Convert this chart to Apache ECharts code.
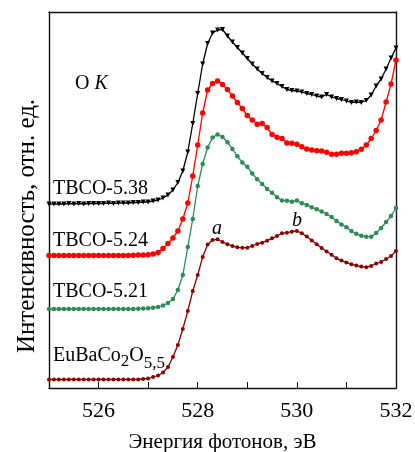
<!DOCTYPE html>
<html>
<head>
<meta charset="utf-8">
<script src="https://cdn.jsdelivr.net/npm/echarts@6/dist/echarts.min.js"></script>
<style>
  html, body { margin: 0; padding: 0; background: #fff; }
  #chart { width: 415px; height: 452px; }
</style>
</head>
<body>
<div id="chart"></div>
<script>
// Photon energy, eV (one sample every 0.1 eV)
const energy = [
  525.0, 525.1, 525.2, 525.3, 525.4, 525.5, 525.6, 525.7, 525.8, 525.9,
  526.0, 526.1, 526.2, 526.3, 526.4, 526.5, 526.6, 526.7, 526.8, 526.9,
  527.0, 527.1, 527.2, 527.3, 527.4, 527.5, 527.6, 527.7, 527.8, 527.9,
  528.0, 528.1, 528.2, 528.3, 528.4, 528.5, 528.6, 528.7, 528.8, 528.9,
  529.0, 529.1, 529.2, 529.3, 529.4, 529.5, 529.6, 529.7, 529.8, 529.9,
  530.0, 530.1, 530.2, 530.3, 530.4, 530.5, 530.6, 530.7, 530.8, 530.9,
  531.0, 531.1, 531.2, 531.3, 531.4, 531.5, 531.6, 531.7, 531.8, 531.9,
  532.0
];

// O K-edge intensity, arbitrary units (spectra are offset vertically)
const tbco538 = [
  184, 184, 184, 184, 184.5, 184, 184.5, 184, 184.5, 184.5,
  184.5, 184.5, 185, 184.5, 185, 185, 185, 185.5, 185.5, 186,
  186, 187, 188, 190, 193, 198, 205.5, 217, 236, 264.5,
  294.5, 324, 344.5, 355, 358, 358.5, 352, 346, 340.5, 335,
  329.5, 324, 319, 314.5, 310.5, 307, 304.5, 301.5, 298.5, 297.5,
  297, 296, 294.5, 293.5, 292, 291, 293.5, 291, 289.5, 288.5,
  287, 285.5, 286, 285.5, 287.5, 293, 302, 309, 319, 330,
  340
];

const tbco524 = [
  132.5, 132.5, 132.5, 132.5, 132.5, 132.5, 132.5, 132.5, 132.5, 132.5,
  132.5, 132.5, 132.5, 132.5, 132.5, 132.5, 132.5, 132.8, 133, 133,
  133.3, 134, 135.5, 139.5, 144.5, 150, 157, 169, 185, 212,
  243, 275, 298, 304.5, 307, 303.5, 298.5, 292, 285.5, 279.5,
  272.5, 268, 263.7, 264.5, 260.5, 253.5, 250.7, 249.5, 245, 244.7,
  243.8, 241.3, 239, 238, 237.3, 237, 235.7, 233.7, 233.7, 234.7,
  234.7, 235.3, 236.3, 238.7, 243, 249.5, 257.5, 268, 286, 304,
  328
];

const tbco521 = [
  79, 79, 79, 79, 79, 79, 79, 79, 79, 79,
  79, 79, 79, 79, 79, 79, 79, 79, 79.3, 79.5,
  79.7, 80.3, 81, 82.5, 85, 89, 98, 113, 141, 169,
  202, 224, 240.5, 250.5, 253.5, 251, 245.7, 239, 231.7, 225.5,
  221.3, 214.5, 208.7, 204, 199, 195.3, 190.7, 187.5, 187.3, 186.3,
  187.5, 184.8, 183, 180.7, 178.8, 176.5, 174, 171, 167, 163.5,
  160.8, 157, 154.2, 152.2, 151.3, 151.3, 155, 160, 166, 172,
  180
];

const eubaco = [
  8.5, 8.5, 8.5, 8.5, 8.5, 8.5, 8.5, 8.5, 8.5, 8.5,
  8.5, 8.5, 8.5, 8.5, 8.5, 8.5, 8.5, 8.5, 8.5, 9,
  9.5, 11, 12.5, 15.5, 21, 31, 43, 59, 77, 97,
  113, 131, 143.5, 148, 148.7, 146, 143.8, 142, 140.7, 140.3,
  140.3, 142, 144, 145.3, 147.3, 149.7, 152, 154.7, 155.3, 156.3,
  157, 154.8, 151.5, 147.5, 143.8, 140, 136.5, 133.2, 129.8, 127.4,
  125.4, 123.8, 122.4, 121.4, 120.8, 122, 124.5, 126, 129, 132,
  137
];

// Labelled tick values on the energy axis
const xTickLabels = [526, 528, 530, 532];

const SERIF = "'Liberation Serif', 'Times New Roman', serif";
const FRAME = { color: '#111', width: 1.4 };

function toPairs(values) {
  return energy.map((e, i) => [e, values[i]]);
}

function spectrum(name, values, color, symbol, size, rotate) {
  return {
    name: name,
    type: 'line',
    data: toPairs(values),
    symbol: symbol,
    symbolSize: size,
    symbolRotate: rotate || 0,
    showSymbol: true,
    clip: false,
    lineStyle: { color: color, width: 1.3 },
    itemStyle: { color: color, borderWidth: 0 },
    emphasis: { disabled: true },
    z: 3
  };
}

function label(text, x, y, extra) {
  return {
    type: 'text',
    x: x,
    y: y,
    silent: true,
    style: Object.assign({
      text: text,
      font: '20px ' + SERIF,
      fill: '#000',
      verticalAlign: 'middle',
      textVerticalAlign: 'middle'
    }, extra || {})
  };
}

// A plain frame line (no ticks, no labels) for the top and right sides
function frameAxis(position) {
  return {
    type: 'value',
    position: position,
    min: position === 'top' ? 525 : 0,
    max: position === 'top' ? 532 : 376,
    axisLine: { show: true, onZero: false, lineStyle: FRAME },
    axisTick: { show: false },
    axisLabel: { show: false },
    splitLine: { show: false }
  };
}

const chart = echarts.init(document.getElementById('chart'), null, { renderer: 'canvas' });

chart.setOption({
  animation: false,
  backgroundColor: '#fff',
  grid: {
    left: 49, top: 12, width: 347, height: 376,
    show: false, containLabel: false, outerBoundsMode: 'none'
  },
  xAxis: [{
    type: 'value',
    position: 'bottom',
    min: 525, max: 532, interval: 1,
    name: 'Энергия фотонов, эВ',
    nameLocation: 'middle',
    nameGap: 44,
    nameTextStyle: { fontFamily: SERIF, fontSize: 21, color: '#000' },
    axisLine: { show: true, onZero: false, lineStyle: FRAME },
    axisTick: { show: true, inside: true, length: 6, lineStyle: { color: '#111', width: 1 } },
    axisLabel: {
      fontFamily: SERIF, fontSize: 22, color: '#000', margin: 12,
      formatter: v => (xTickLabels.indexOf(v) >= 0 ? String(v) : '')
    },
    splitLine: { show: false }
  }, frameAxis('top')],
  yAxis: [{
    type: 'value',
    position: 'left',
    min: 0, max: 376,
    axisLine: { show: true, onZero: false, lineStyle: FRAME },
    axisTick: { show: false },
    axisLabel: { show: false },
    splitLine: { show: false }
  }, frameAxis('right')],
  series: [
    spectrum('TBCO-5.38', tbco538, '#000000', 'triangle', 5, 180),
    spectrum('TBCO-5.24', tbco524, '#ff0000', 'circle', 5.5),
    spectrum('TBCO-5.21', tbco521, '#2e8b57', 'circle', 4.5),
    spectrum('EuBaCo2O5,5', eubaco, '#8b0000', 'circle', 4)
  ],
  graphic: [
    // vertical axis title
    {
      type: 'text',
      x: 27, y: 226,
      rotation: Math.PI / 2,
      silent: true,
      style: {
        text: 'Интенсивность, отн. ед.',
        font: '25px ' + SERIF,
        fill: '#000',
        align: 'center', textAlign: 'center',
        verticalAlign: 'middle', textVerticalAlign: 'middle'
      }
    },
    label('{n|O }{i|K}', 75, 84, {
      rich: {
        n: { fontFamily: SERIF, fontSize: 20, fill: '#000' },
        i: { fontFamily: SERIF, fontSize: 20, fontStyle: 'italic', fill: '#000' }
      }
    }),
    label('TBCO-5.38', 53, 189),
    label('TBCO-5.24', 53, 241),
    label('TBCO-5.21', 53, 292),
    label('{n|EuBaCo}{s|2}{n|O}{t|5,5}', 53, 356, {
      rich: {
        n: { fontFamily: SERIF, fontSize: 20, lineHeight: 20, verticalAlign: 'top', fill: '#000' },
        s: { fontFamily: SERIF, fontSize: 17, lineHeight: 17, verticalAlign: 'top', padding: [7, 0, 0, 0], fill: '#000' },
        t: { fontFamily: SERIF, fontSize: 17, lineHeight: 17, verticalAlign: 'top', padding: [9, 0, 0, 0], fill: '#000' }
      }
    }),
    label('a', 212, 229, { font: 'italic 20px ' + SERIF }),
    label('b', 292, 221, { font: 'italic 20px ' + SERIF })
  ]
});
</script>
</body>
</html>
